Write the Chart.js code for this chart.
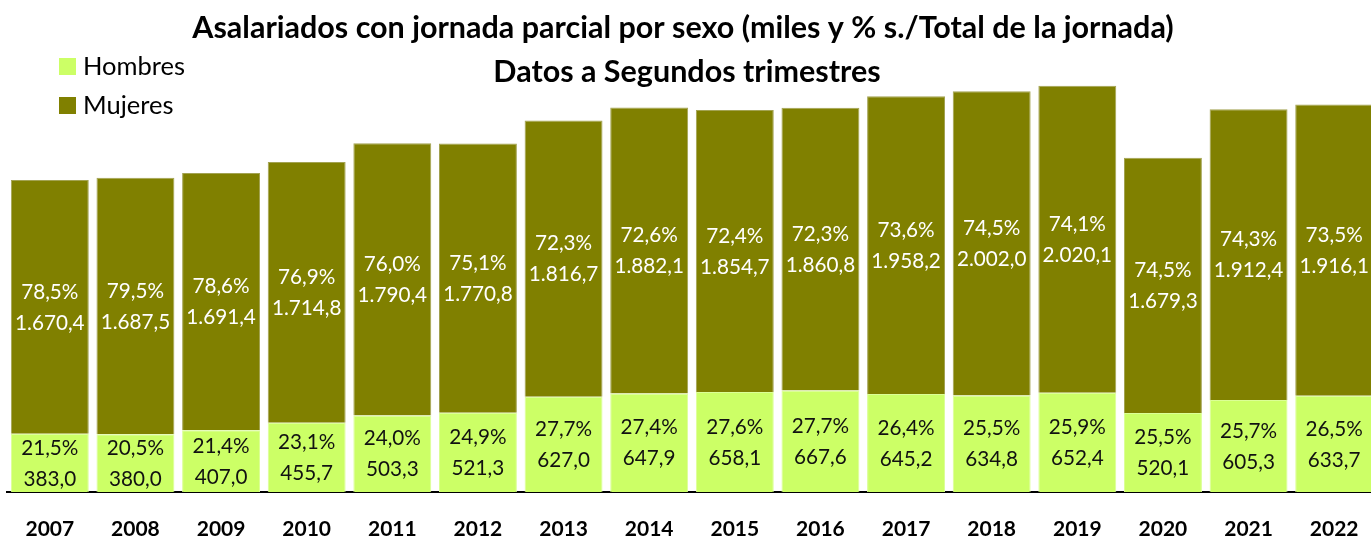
<!DOCTYPE html>
<html>
<head>
<meta charset="utf-8">
<script src="https://cdn.jsdelivr.net/npm/chart.js@4.4.1/dist/chart.umd.min.js"></script>
<style>
  html, body { margin: 0; padding: 0; background: #fff; overflow: hidden; }
  #wrap { position: relative; width: 1380px; height: 538px; }
</style>
</head>
<body>
<div id="wrap"><canvas id="jornada-chart"></canvas></div>
<script>
// años y series (miles de asalariados y % sobre el total de su jornada)
const years = ["2007", "2008", "2009", "2010", "2011", "2012", "2013", "2014",
  "2015", "2016", "2017", "2018", "2019", "2020", "2021", "2022"];
const hombres = [383.0, 380.0, 407.0, 455.7, 503.3, 521.3, 627.0, 647.9,
  658.1, 667.6, 645.2, 634.8, 652.4, 520.1, 605.3, 633.7];
const hombresPct = [21.5, 20.5, 21.4, 23.1, 24.0, 24.9, 27.7, 27.4,
  27.6, 27.7, 26.4, 25.5, 25.9, 25.5, 25.7, 26.5];
const mujeres = [1670.4, 1687.5, 1691.4, 1714.8, 1790.4, 1770.8, 1816.7, 1882.1,
  1854.7, 1860.8, 1958.2, 2002.0, 2020.1, 1679.3, 1912.4, 1916.1];
const mujeresPct = [78.5, 79.5, 78.6, 76.9, 76.0, 75.1, 72.3, 72.6,
  72.4, 72.3, 73.6, 74.5, 74.1, 74.5, 74.3, 73.5];

const verdeClaro = '#CCFF66';
const oliva = '#808000';
const fontFam = 'Lato, "Open Sans", sans-serif';

// formato español: 1.670,4
const fmtNum = v => {
  const parts = v.toFixed(1).split('.');
  parts[0] = parts[0].replace(/\B(?=(\d{3})+(?!\d))/g, '.');
  return parts.join(',');
};
const fmtPct = v => v.toFixed(1).replace('.', ',') + '%';

// etiquetas dentro de cada tramo
const barLabels = {
  id: 'barLabels',
  afterDatasetsDraw(chart) {
    const ctx = chart.ctx;
    const pcts = [hombresPct, mujeresPct];
    const colors = ['#111', '#fff'];
    ctx.save();
    ctx.font = '20.7px ' + fontFam;
    ctx.textAlign = 'center';
    ctx.textBaseline = 'middle';
    chart.data.datasets.forEach((ds, di) => {
      chart.getDatasetMeta(di).data.forEach((bar, i) => {
        const mid = (bar.y + bar.base) / 2;
        ctx.fillStyle = colors[di];
        ctx.fillText(fmtPct(pcts[di][i]), bar.x, mid - 15);
        ctx.fillText(fmtNum(ds.data[i]), bar.x, mid + 16);
      });
    });
    ctx.restore();
  }
};

// título y leyenda
const cabecera = {
  id: 'cabecera',
  afterDraw(chart) {
    const ctx = chart.ctx;
    ctx.save();
    ctx.fillStyle = '#000';
    ctx.textAlign = 'center';
    ctx.textBaseline = 'middle';
    ctx.font = 'bold 30.5px ' + fontFam;
    ctx.fillText('Asalariados con jornada parcial por sexo (miles y % s./Total de la jornada)', 683, 28);
    ctx.fillText('Datos a Segundos trimestres', 687, 72);

    ctx.textAlign = 'left';
    ctx.font = '25.5px ' + fontFam;
    const items = [['Hombres', verdeClaro, 66], ['Mujeres', oliva, 105]];
    items.forEach(([txt, col, y]) => {
      ctx.fillStyle = col;
      ctx.fillRect(59, y - 8, 17, 17);
      ctx.fillStyle = '#000';
      ctx.fillText(txt, 83, y + 1);
    });
    ctx.restore();
  }
};

new Chart(document.getElementById('jornada-chart'), {
  type: 'bar',
  data: {
    labels: years,
    datasets: [
      { label: 'Hombres', data: hombres, backgroundColor: verdeClaro,
        borderColor: '#dcff96', borderWidth: 1 },
      { label: 'Mujeres', data: mujeres, backgroundColor: oliva,
        borderColor: '#a3a352', borderWidth: 1 }
    ]
  },
  options: {
    responsive: true,
    maintainAspectRatio: false,
    animation: false,
    layout: { padding: { top: 36, left: 7, right: 3, bottom: 0 } },
    datasets: { bar: { barPercentage: 1, categoryPercentage: 0.91 } },
    scales: {
      x: {
        stacked: true,
        grid: { display: false },
        border: { display: true, color: '#000', width: 2 },
        ticks: {
          color: '#000',
          padding: 19,
          font: { family: fontFam, size: 21, weight: 'bold', lineHeight: 1 }
        },
        afterFit(scale) { scale.height = 46; }
      },
      y: {
        stacked: true,
        display: false,
        min: 0,
        max: 3000
      }
    },
    plugins: {
      legend: { display: false },
      title: { display: false },
      tooltip: { enabled: false }
    }
  },
  plugins: [barLabels, cabecera]
});
</script>
</body>
</html>
